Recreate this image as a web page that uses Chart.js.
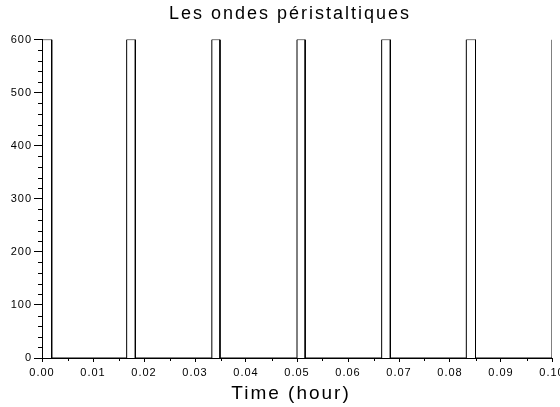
<!DOCTYPE html>
<html lang="fr">
<head>
    <meta charset="UTF-8">
    <title>Les ondes péristaltiques</title>
    <script src="https://cdn.jsdelivr.net/npm/chart.js"></script>
    <style>
        html, body { margin: 0; padding: 0; background: #fff; }
    </style>
</head>
<body>
    <canvas id="waveChart" width="560" height="407"></canvas>

    <script>
        // Data (time in hours, wave amplitude)
        const timeValues = [0, 0.0019, 0.0019, 0.0166, 0.0166, 0.0183, 0.0183,
            0.0333, 0.0333, 0.0349, 0.0349, 0.0500, 0.0500, 0.0516, 0.0516,
            0.0666, 0.0666, 0.0683, 0.0683, 0.0832, 0.0832, 0.0850, 0.0850,
            0.1000, 0.1000];
        const waveValues = [600, 600, 0, 0, 600, 600, 0,
            0, 600, 600, 0, 0, 600, 600, 0,
            0, 600, 600, 0, 0, 600, 600, 0,
            0, 600];
        const xTickLabels = ['0.00', '0.01', '0.02', '0.03', '0.04', '0.05', '0.06', '0.07', '0.08', '0.09', '0.10'];
        const yTickLabels = ['0', '100', '200', '300', '400', '500', '600'];

        const points = timeValues.map((t, i) => ({ x: t, y: waveValues[i] }));
        const fontFamily = '"Liberation Sans", Arial, Helvetica, sans-serif';

        // wrap a draw function so its text gets letter spacing and a small shift
        function spaced(ctx, fn, spacing, dx) {
            return function (...args) {
                ctx.save();
                ctx.letterSpacing = spacing;
                ctx.translate(dx, 0);
                fn.apply(this, args);
                ctx.restore();
            };
        }

        const textStyle = {
            id: 'textStyle',
            beforeDraw(chart) {
                const ctx = chart.ctx;
                ctx.letterSpacing = '1px';
                if (chart.titleBlock && !chart.titleBlock._spaced) {
                    chart.titleBlock.draw = spaced(ctx, chart.titleBlock.draw, '2px', 14);
                    chart.titleBlock._spaced = true;
                }
                const xs = chart.scales.x;
                if (!xs._spaced) {
                    xs.drawTitle = spaced(ctx, xs.drawTitle, '2px', -6);
                    xs._spaced = true;
                }
            },
            afterDraw(chart) {
                chart.ctx.letterSpacing = '0px';
            }
        };

        // minor ticks drawn from the scales (Chart.js has none of its own)
        const minorTicks = {
            id: 'minorTicks',
            afterDraw(chart) {
                const ctx = chart.ctx;
                const xs = chart.scales.x, ys = chart.scales.y;
                ctx.save();
                ctx.strokeStyle = '#000';
                ctx.lineWidth = 1;
                ctx.beginPath();
                for (let v = 20; v < 600; v += 20) {
                    if (v % 100 === 0) continue;
                    const py = Math.round(ys.getPixelForValue(v)) + 0.5;
                    ctx.moveTo(ys.right - 4, py);
                    ctx.lineTo(ys.right, py);
                }
                for (let i = 1; i < 20; i += 2) {
                    const px = Math.round(xs.getPixelForValue(i * 0.005)) + 0.5;
                    ctx.moveTo(px, xs.top);
                    ctx.lineTo(px, xs.top + 3);
                }
                ctx.stroke();
                ctx.restore();
            }
        };

        new Chart(document.getElementById('waveChart'), {
            type: 'scatter',
            data: {
                datasets: [{
                    data: points,
                    showLine: true,
                    borderColor: '#000',
                    borderWidth: 1,
                    pointRadius: 0,
                    tension: 0
                }]
            },
            options: {
                responsive: false,
                animation: false,
                layout: { padding: { left: 0, right: 8, top: 0, bottom: 0 } },
                plugins: {
                    legend: { display: false },
                    tooltip: { enabled: false },
                    title: {
                        display: true,
                        text: 'Les ondes péristaltiques',
                        color: '#000',
                        font: { family: fontFamily, size: 18, weight: 'normal' },
                        padding: { top: 3, bottom: 15 }
                    }
                },
                scales: {
                    x: {
                        type: 'linear',
                        min: 0,
                        max: 0.1,
                        afterFit: s => { s.height = 49; s.paddingLeft = 0; s.paddingRight = 0; },
                        border: { display: true, color: '#000', width: 1 },
                        grid: { drawOnChartArea: false, drawTicks: true, tickLength: 4, tickColor: '#000' },
                        ticks: {
                            stepSize: 0.01,
                            autoSkip: false,
                            maxRotation: 0,
                            padding: 4,
                            color: '#000',
                            font: { family: fontFamily, size: 11 },
                            callback: (v) => xTickLabels[Math.round(v * 100)]
                        },
                        title: {
                            display: true,
                            text: 'Time (hour)',
                            color: '#000',
                            font: { family: fontFamily, size: 19 },
                            padding: { top: 0, bottom: 2 }
                        }
                    },
                    y: {
                        min: 0,
                        max: 600,
                        afterFit: s => { s.width = 42; s.paddingTop = 0; s.paddingBottom = 0; },
                        border: { display: true, color: '#000', width: 1 },
                        grid: { drawOnChartArea: false, drawTicks: true, tickLength: 8, tickColor: '#000' },
                        ticks: {
                            stepSize: 100,
                            padding: 2,
                            color: '#000',
                            font: { family: fontFamily, size: 11 },
                            callback: (v) => yTickLabels[Math.round(v / 100)]
                        }
                    }
                }
            },
            plugins: [textStyle, minorTicks]
        });
    </script>
</body>
</html>
